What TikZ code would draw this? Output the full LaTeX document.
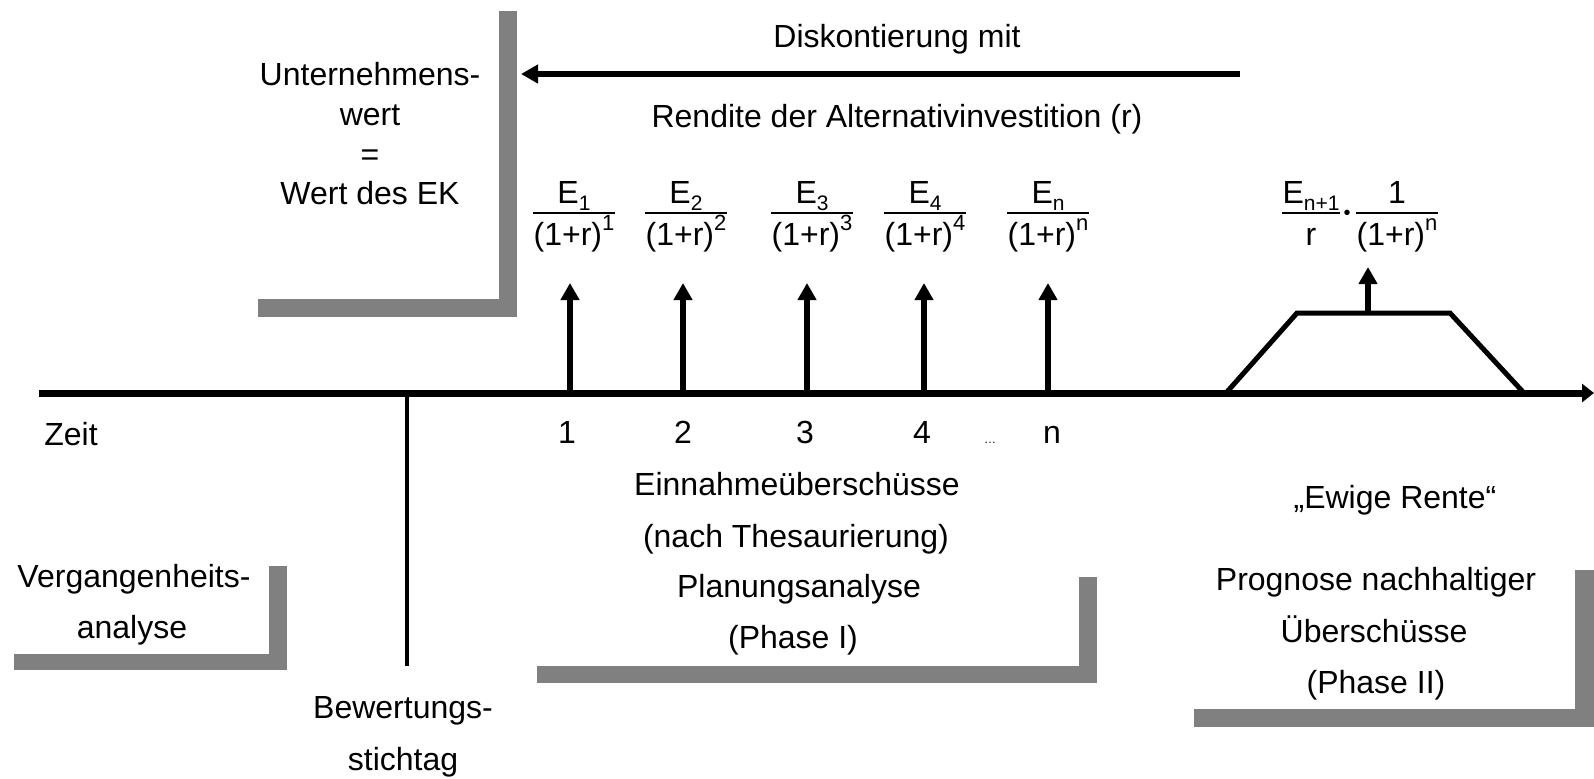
\documentclass[tikz,border=0pt]{standalone}
\usepackage{fontspec}
\setmainfont{Liberation Sans}
\usetikzlibrary{arrows.meta}
\definecolor{barc}{HTML}{808080}
\newcommand{\mysub}[1]{\raisebox{-0.22em}{\fontsize{10.5}{10.5}\selectfont #1}}
\newcommand{\mysup}[1]{\raisebox{0.45em}{\fontsize{11}{11}\selectfont #1}}
\newcommand{\fracpair}[4]{%
  \node[lbl] (#1n) at (#2,203) {#3};
  \node[lbl] (#1d) at (#2,245) {#4};
  \draw[fbar] (#1d.west |- fy) -- (#1d.east |- fy);
}
\begin{document}
\begin{tikzpicture}[x=0.5pt,y=-0.5pt,
  lbl/.style={inner sep=0pt, anchor=base, font=\fontsize{16}{19}\selectfont},
  upar/.style={line width=3pt, -{Triangle[length=8.5pt,width=9pt]}},
  axisline/.style={line width=3.5pt, -{Triangle[length=6pt,width=9pt]}},
  fbar/.style={line width=1pt},
  graybar/.style={fill=barc},
  ]
\useasboundingbox (0,0) rectangle (1594,778);
\coordinate (fy) at (0,213);

% gray L-shaped frames
\fill[graybar] (499,11) rectangle (517,317);
\fill[graybar] (258,299) rectangle (517,317);
\fill[graybar] (269,566) rectangle (287,670);
\fill[graybar] (14,654) rectangle (287,670);
\fill[graybar] (1079,577) rectangle (1097,683);
\fill[graybar] (537,666) rectangle (1097,683);
\fill[graybar] (1575,570) rectangle (1594,727);
\fill[graybar] (1194,709) rectangle (1594,727);

% top-left text
\node[lbl] (u1) at (370,85) {Unternehmens-};
\node[lbl] (u2) at (370,125) {wert};
\node[lbl] (u3) at (370,165) {=};
\node[lbl] (u4) at (370,204) {Wert des EK};

% discounting arrow
\node[lbl] (d1) at (897,47) {Diskontierung mit};
\node[lbl] (d2) at (897,127) {Rendite der Alternativinvestition (r)};
\coordinate (ds) at (1240,74);
\coordinate (de) at (521,74);
\draw[upar] (ds) -- (de);

% time axis
\coordinate (t0) at (39,393);
\coordinate (t1) at (1594,393);
\draw[axisline] (t0) -- (t1);
\node[lbl] (zeit) at (71,445) {Zeit};

% valuation date line
\coordinate (s0) at (407,393);
\coordinate (s1) at (407,666);
\draw[line width=2.3pt] (s0) -- (s1);

% fractions
\fracpair{f1}{574}{E\mysub{1}}{(1+r)\mysup{1}}
\fracpair{f2}{686}{E\mysub{2}}{(1+r)\mysup{2}}
\fracpair{f3}{812}{E\mysub{3}}{(1+r)\mysup{3}}
\fracpair{f4}{925}{E\mysub{4}}{(1+r)\mysup{4}}
\fracpair{f5}{1048}{E\mysub{n}}{(1+r)\mysup{n}}

% upward arrows
\foreach \i/\x in {1/570,2/683,3/807,4/924,5/1048}{
  \coordinate (b\i) at (\x,393);
  \coordinate (a\i) at (\x,283);
  \draw[upar] (b\i) -- (a\i);
}

% period labels
\node[lbl] (l1) at (567,443) {1};
\node[lbl] (l2) at (683,443) {2};
\node[lbl] (l3) at (805,443) {3};
\node[lbl] (l4) at (922,443) {4};
\node[lbl, font=\fontsize{6}{6}\selectfont] (ld) at (990,443) {…};
\node[lbl] (ln) at (1052,443) {n};

% phase I texts
\node[lbl] (e1) at (797,495) {Einnahmeüberschüsse};
\node[lbl] (e2) at (796,547) {(nach Thesaurierung)};
\node[lbl] (p1) at (799,597) {Planungsanalyse};
\node[lbl] (p2) at (793,648) {(Phase I)};

% past analysis
\node[lbl] (v1) at (134,587) {Vergangenheits-};
\node[lbl] (v2) at (132,638) {analyse};

% valuation date
\node[lbl] (bw1) at (403,718) {Bewertungs-};
\node[lbl] (bw2) at (403,770) {stichtag};

% perpetuity
\draw[line width=2.5pt, line join=miter] (1226,393) -- (1297,313) -- (1450,313) -- (1524,393);
\coordinate (tt) at (1368,313);
\coordinate (tta) at (1368,267);
\draw[upar] (tt) -- (tta);
\node[lbl] (enn) at (1311,203) {E\mysub{n+1}};
\node[lbl] (enr) at (1311,245) {r};
\draw[line width=0.6pt] (enn.west |- fy) -- (enn.east |- fy);
\node[lbl, font=\fontsize{10}{10}\selectfont] (dot) at (1347,219) {•};
\node[lbl] (onen) at (1397,203) {1};
\node[lbl] (oned) at (1397,245) {(1+r)\mysup{n}};
\draw[fbar] (oned.west |- fy) -- (oned.east |- fy);

\node[lbl] (er) at (1395,508) {„Ewige Rente“};
\node[lbl] (pg1) at (1376,590) {Prognose nachhaltiger};
\node[lbl] (pg2) at (1374,642) {Überschüsse};
\node[lbl] (pg3) at (1376,693) {(Phase II)};
\end{tikzpicture}
\end{document}
